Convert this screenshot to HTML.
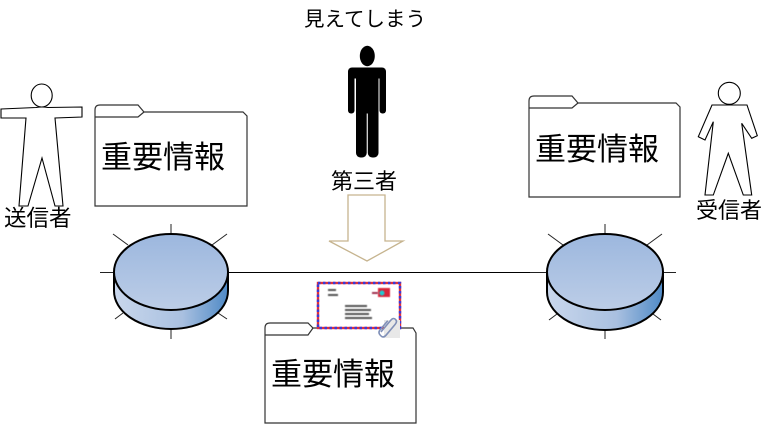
<!DOCTYPE html>
<html><head><meta charset="utf-8"><style>
html,body{margin:0;padding:0;background:#fff;}
svg{display:block;}
text{font-family:"Liberation Sans","Noto Sans CJK JP",sans-serif;fill:#000;}
</style></head><body>
<svg width="764" height="424" viewBox="0 0 764 424" xmlns="http://www.w3.org/2000/svg">
<defs>
<linearGradient id="topg" x1="0" y1="0" x2="0" y2="1">
<stop offset="0" stop-color="#9cb7de"/><stop offset="1" stop-color="#bccde7"/>
</linearGradient>
<linearGradient id="sideg" x1="0" y1="0" x2="1" y2="0">
<stop offset="0" stop-color="#c9d7ec"/><stop offset="0.6" stop-color="#a9c0e0"/><stop offset="1" stop-color="#4f8ac6"/>
</linearGradient>
<filter id="bl" x="-20%" y="-50%" width="140%" height="200%"><feGaussianBlur stdDeviation="0.6"/></filter>
</defs>

<!-- connecting line -->
<line x1="228" y1="272.5" x2="548" y2="272.5" stroke="#000" stroke-width="1"/>

<!-- left router spikes -->
<g stroke="#222" stroke-width="1">
<line x1="171" y1="224" x2="171" y2="234"/>
<line x1="171" y1="328" x2="171" y2="339"/>
<line x1="100" y1="272.5" x2="114" y2="272.5"/>
<line x1="113" y1="234" x2="128" y2="245"/>
<line x1="212" y1="245" x2="227" y2="234"/>
<line x1="115" y1="319" x2="123" y2="313"/>
<line x1="218" y1="313" x2="227" y2="319"/>
</g>
<!-- right router spikes -->
<g stroke="#222" stroke-width="1">
<line x1="605" y1="224" x2="605" y2="234"/>
<line x1="605" y1="330" x2="605" y2="339"/>
<line x1="530" y1="272.5" x2="547" y2="272.5"/>
<line x1="663" y1="272.5" x2="676" y2="272.5"/>
<line x1="548" y1="234" x2="563" y2="245"/>
<line x1="647" y1="245" x2="662" y2="234"/>
<line x1="549" y1="320" x2="557" y2="314"/>
<line x1="653" y1="314" x2="661" y2="320"/>
</g>

<!-- left cylinder -->
<path d="M114,272 L114,291 A57,38 0 0 0 228,291 L228,272 Z" fill="url(#sideg)" stroke="#000" stroke-width="2"/>
<ellipse cx="171" cy="272" rx="57" ry="38" fill="url(#topg)" stroke="#000" stroke-width="2"/>
<!-- right cylinder -->
<path d="M547,272 L547,292 A58,38 0 0 0 663,292 L663,272 Z" fill="url(#sideg)" stroke="#000" stroke-width="2"/>
<ellipse cx="605" cy="272" rx="58" ry="38" fill="url(#topg)" stroke="#000" stroke-width="2"/>

<!-- folders -->
<g fill="#fff" stroke="#333" stroke-width="1.2">
<g transform="translate(95,105)">
<path d="M0,101 V5 Q0,0 5,0 H43 L49,7 H148 L152,11 V101 Z"/>
<path d="M0,12 H43 L49,7" fill="none"/>
</g>
<g transform="translate(529,96)">
<path d="M0,101 V5 Q0,0 5,0 H43 L49,7 H147 L151,11 V101 Z"/>
<path d="M0,12 H43 L49,7" fill="none"/>
</g>
<g transform="translate(265,323)">
<path d="M0,100 V5 Q0,0 5,0 H43 L48,5 H148 L151,10 V100 Z"/>
<path d="M0,12 H43 L48,5" fill="none"/>
</g>
</g>
<text x="101" y="168" font-size="31">重要情報</text>
<text x="535" y="160" font-size="31">重要情報</text>
<text x="271" y="385" font-size="31">重要情報</text>

<!-- envelope -->
<rect x="318" y="283" width="82" height="45" fill="#fff"/>
<rect x="318" y="283" width="82" height="45" fill="none" stroke="#e0303a" stroke-width="2.4"/>
<rect x="318" y="283" width="82" height="45" fill="none" stroke="#3a3ad8" stroke-width="2.4" stroke-dasharray="2.5,2.5"/>
<g fill="#555" filter="url(#bl)">
<rect x="328" y="289" width="8" height="2"/>
<rect x="328" y="294" width="10" height="2"/>
<rect x="345" y="305" width="22" height="2"/>
<rect x="345" y="309" width="26" height="2"/>
<rect x="345" y="313" width="24" height="2"/>
<rect x="345" y="317" width="27" height="2"/>
</g>
<rect x="378" y="288" width="12" height="9" fill="#d8263a" filter="url(#bl)"/>
<rect x="372" y="292" width="6" height="2" fill="#a03050" filter="url(#bl)"/>
<circle cx="382" cy="293" r="2.5" fill="#20c8d0" filter="url(#bl)"/>
<!-- paperclip -->
<rect x="384" y="320" width="16" height="18" fill="#e8e8e8"/>
<g transform="translate(389,327) rotate(40)">
<path d="M-3,9 V-6 Q-3,-10 0,-10 Q3,-10 3,-6 V8 Q3,12 0,12 Q-5,12 -5,8 V-4" fill="none" stroke="#8090b8" stroke-width="1.6"/>
</g>

<!-- arrow -->
<polygon points="348,195 385,195 385,241 403,241 367,261 329,241 348,241" fill="#fff" stroke="#c6b48f" stroke-width="1.3"/>

<!-- third party figure -->
<g fill="#000">
<ellipse cx="367.3" cy="56" rx="7.5" ry="10.2"/>
<rect x="348" y="67.5" width="38" height="11" rx="4"/>
<rect x="348" y="70" width="6.5" height="43.5" rx="3"/>
<rect x="379.5" y="70" width="6.5" height="43.5" rx="3"/>
<rect x="356" y="67.5" width="22.5" height="46"/>
<rect x="356" y="100" width="10.7" height="57.5" rx="4.5"/>
<rect x="367.8" y="100" width="10.7" height="57.5" rx="4.5"/>
</g>
<text x="304" y="26" font-size="20.5">見えてしまう</text>
<text x="331" y="189" font-size="22">第三者</text>

<!-- sender -->
<g fill="#fff" stroke="#000" stroke-width="1.1">
<path d="M1,109 L36,107.5 Q42,106.5 48,107.5 L82,107 L82,117 L55,118 L63,206 L55,206 L42,158 L28,206 L19,206 L26,118 L1,118 Z"/>
<ellipse cx="41.7" cy="95.5" rx="10.5" ry="11.5"/>
</g>
<text x="4" y="226" font-size="22.5">送信者</text>

<!-- receiver -->
<g fill="#fff" stroke="#000" stroke-width="1.1">
<path d="M712,105 L747,105 L757.3,135.7 L751.7,138.3 L741.7,123.3 L751.7,195 L743.3,195 L728.3,153.3 L713.3,195 L705,195 L713.3,121.7 L705,140 L698.3,136.7 Z"/>
<circle cx="729.3" cy="93.3" r="11"/>
</g>
<text x="696" y="218" font-size="22">受信者</text>
</svg>
</body></html>
